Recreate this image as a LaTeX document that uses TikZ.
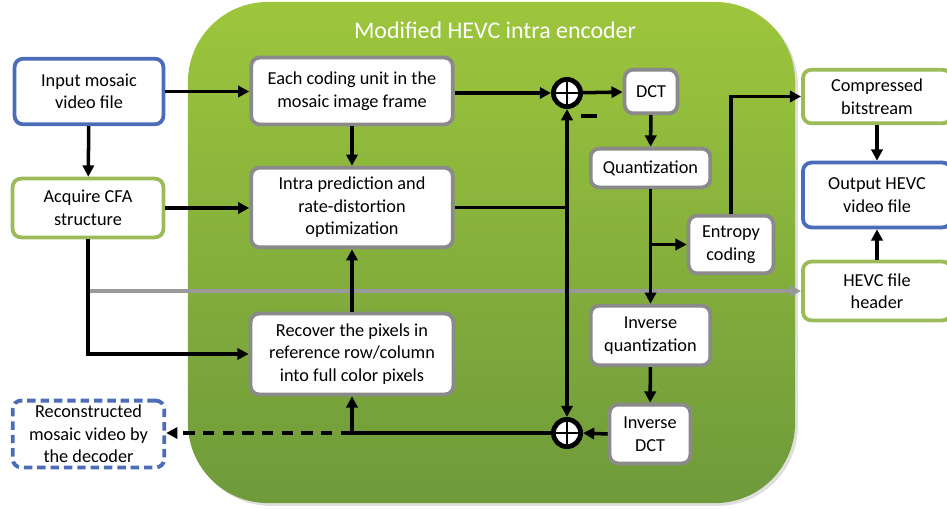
\documentclass[tikz,border=0pt]{standalone}
\usepackage{fontspec}
\setmainfont{Carlito}
\usepackage{tikz}
\usetikzlibrary{arrows.meta,positioning,calc,shadows}
\definecolor{ioblue}{HTML}{4B6CB7}
\definecolor{sidegreen}{HTML}{9BBB59}
\definecolor{boxgray}{HTML}{8A8A8A}
\definecolor{linegray}{HTML}{999999}
\definecolor{enctop}{HTML}{9DC63C}
\definecolor{encbot}{HTML}{6E9A3B}

\begin{document}
\begin{tikzpicture}[
  x=0.025cm, y=-0.025cm,
  font=\fontsize{13}{16}\selectfont,
  >={Triangle[length=8pt, width=8pt]},
  box/.style={rectangle, rounded corners=6pt, draw=boxgray, fill=white, line width=2.7pt,
              align=center, inner sep=2pt},
  io/.style={box, draw=ioblue},
  side/.style={box, draw=sidegreen},
  sum/.style={circle, draw=black, fill=white, line width=3.4pt, minimum size=0.68cm, inner sep=0pt,
              path picture={\draw[line width=2pt]
                (path picture bounding box.north) -- (path picture bounding box.south)
                (path picture bounding box.west) -- (path picture bounding box.east);}},
  flow/.style={->, line width=2.5pt, draw=black},
  hdr/.style={->, line width=2.5pt, draw=linegray},
]
\useasboundingbox (0,0) rectangle (947,509);

\def\lx{89}  \def\cx{352}  \def\sx{567}  \def\qx{651}  \def\rx{877}

% encoder frame
\node[rounded corners=2cm, top color=enctop, bottom color=encbot, minimum width=15.175cm, minimum height=12.525cm,
      drop shadow={opacity=0.25, shadow xshift=2pt, shadow yshift=-2pt}] (enc) at (491.5,252.5) {};
\node[text=white, font=\fontsize{17}{20}\selectfont] (title) at (495,30) {Modified HEVC intra encoder};

% outside, left
\node[io, minimum width=3.72cm, minimum height=1.64cm] (inp) at (\lx,91.5) {Input mosaic\\video file};
\node[side, minimum width=3.77cm, minimum height=1.47cm] (cfa) at (88,208) {Acquire CFA\\structure};
\node[io, dashed, dash pattern=on 6pt off 3.5pt, minimum width=3.79cm, minimum height=1.67cm] (rec) at (88.5,434)
  {Reconstructed\\mosaic video by\\the decoder};

% inside the encoder
\node[box, minimum width=5.04cm, minimum height=1.67cm] (ecu) at (\cx,91) {Each coding unit in the\\mosaic image frame};
\node[box, minimum width=5.04cm, minimum height=1.99cm] (intra) at (\cx,207.5) {Intra prediction and\\rate-distortion\\optimization};
\node[box, minimum width=5.07cm, minimum height=2.02cm] (recov) at (\cx,354) {Recover the pixels in\\reference row/column\\into full color pixels};
\node[sum] (s1) at (\sx,93) {};
\node[sum] (s2) at (\sx,433) {};
\node[fill=black, minimum width=0.42cm, minimum height=0.11cm, inner sep=0pt] (minus) at (589,116) {};
\node[box, minimum width=1.32cm, minimum height=1.09cm] (dct) at (\qx,91.5) {DCT};
\node[box, minimum width=2.99cm, minimum height=0.97cm] (quant) at (650.5,168) {Quantization};
\node[box, minimum width=2.12cm, minimum height=1.44cm] (ent) at (731,244.5) {Entropy\\coding};
\node[box, minimum width=2.99cm, minimum height=1.49cm] (iquant) at (650.5,335.5) {Inverse\\quantization};
\node[box, minimum width=2.02cm, minimum height=1.47cm] (idct) at (650,434) {Inverse\\DCT};

% outside, right
\node[side, minimum width=3.7cm, minimum height=1.34cm] (comp) at (\rx,96.5) {Compressed\\bitstream};
\node[io, minimum width=3.7cm, minimum height=1.62cm] (outf) at (\rx,195) {Output HEVC\\video file};
\node[side, minimum width=3.7cm, minimum height=1.47cm] (head) at (\rx,291) {HEVC file\\header};

% header line (under the black ones)
\draw[hdr] (cfa.south |- head.west) -- (head.west);

% left side
\draw[flow] (inp.east) -- (inp.east -| ecu.west);
\draw[flow] (inp) -- (cfa);
\draw[flow] (cfa.east) -- (cfa.east -| intra.west);
\draw[flow] (cfa.south) |- (recov.west);

% prediction loop
\draw[flow] (ecu) -- (intra);
\draw[flow] (recov) -- (intra);
\draw[flow] (ecu.east |- s1.west) -- (s1.west);
\coordinate (j1) at (intra.east -| s1.center);
\draw[line width=2.5pt] (intra.east) -- (j1);
\draw[flow] (j1) -- (s1.south);
\draw[flow] (j1) -- (s2.north);

% transform and coding
\draw[flow] (s1) -- (dct);
\draw[flow] (dct) -- (quant);
\draw[flow] (quant) -- (iquant);
\draw[flow] (quant.south |- ent.west) -- (ent.west);
\draw[flow] (ent.north) |- (comp.west);
\draw[flow] (iquant) -- (idct);
\draw[flow] (idct.west) -- (s2.east);

% reconstruction
\coordinate (j2) at (s2.west -| recov.south);
\draw[line width=2.5pt] (s2.west) -- (j2);
\draw[flow] (j2) -- (recov.south);
\draw[flow, dashed, dash pattern=on 8pt off 6pt] (j2) -- (j2 -| rec.east);

% output file
\draw[flow] (comp) -- (outf);
\draw[flow] (head) -- (outf);

\end{tikzpicture}
\end{document}
